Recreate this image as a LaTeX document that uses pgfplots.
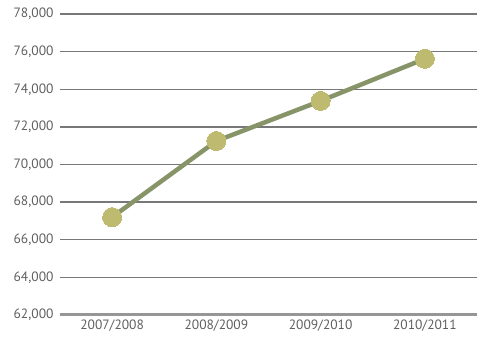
\documentclass[border=0pt]{standalone}
\usepackage{fontspec}
\setmainfont{PT Sans}
\usepackage{pgfplots}
\pgfplotsset{compat=1.18}
\definecolor{gridc}{RGB}{120,120,120}
\definecolor{basec}{RGB}{150,150,150}
\definecolor{linec}{RGB}{134,148,104}
\definecolor{markc}{RGB}{190,186,112}
\definecolor{textc}{RGB}{95,95,95}
\begin{document}
\begin{tikzpicture}
\begin{axis}[
  name=ax,
  scale only axis,
  width=417pt, height=301pt,
  xmin=-0.5, xmax=3.5,
  ymin=62000, ymax=78000,
  xtick={0,1,2,3},
  xticklabels={2007/2008,2008/2009,2009/2010,2010/2011},
  ytick={62000,64000,...,78000},
  axis line style={draw=none},
  major tick length=0pt,
  ymajorgrids,
  grid style={draw=gridc, line width=1.3pt},
  /pgf/number format/assume math mode=true,
  /pgf/number format/1000 sep={,},
  scaled y ticks=false,
  tick label style={font=\fontsize{13.5}{15}\selectfont, text=textc},
  yticklabel style={xshift=-3pt},
  xticklabel style={yshift=-1pt},
  clip=false,
]
\draw[basec, line width=3pt] (axis cs:-0.5,62000) -- (axis cs:3.5,62000);
\addplot[linec, line width=4.5pt, mark=*, mark size=9.5pt,
  mark options={fill=markc, draw=markc, line width=0pt}]
  coordinates {(0,67200) (1,71250) (2,73380) (3,75620)};
\end{axis}
\pgfresetboundingbox
\path[use as bounding box] (ax.south west) ++(-60pt,-24pt) rectangle ++(485pt,339pt);
\end{tikzpicture}
\end{document}
